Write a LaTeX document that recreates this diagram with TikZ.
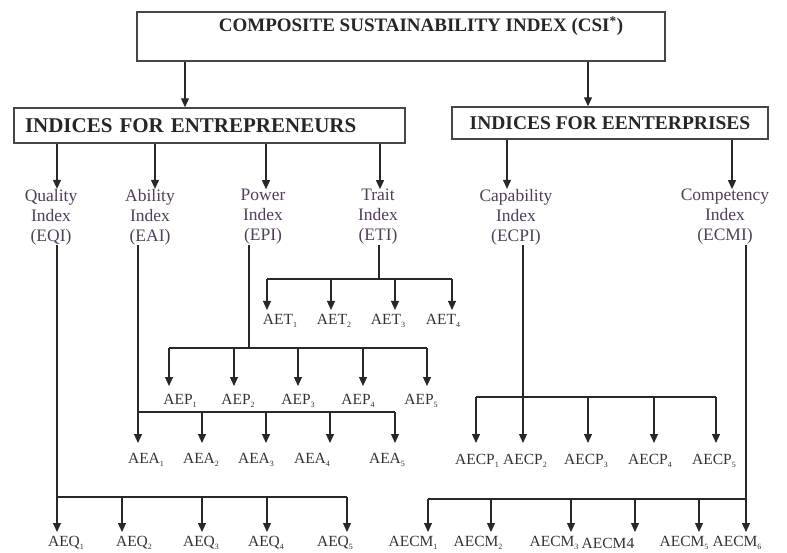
\documentclass[tikz,border=0pt]{standalone}
\usepackage{fontspec}
\setmainfont{Liberation Serif}
\usetikzlibrary{arrows.meta}
\definecolor{lnc}{RGB}{40,40,40}
\definecolor{boxc}{RGB}{70,70,70}
\definecolor{idx}{RGB}{80,62,90}
\definecolor{leaf}{RGB}{50,50,50}
\newcommand{\lowsub}[1]{\raisebox{-0.4ex}{\fontsize{8}{8}\selectfont #1}}
\begin{document}
\begin{tikzpicture}[x=1pt,y=-1pt,
  arr/.style={draw=lnc, line width=1.1pt, -{Triangle[length=9pt,width=8pt]}},
  lnk/.style={draw=lnc, line width=1.1pt},
  box/.style={draw=boxc, line width=1.4pt, inner sep=0pt},
  idxlab/.style={text=idx, font=\fontsize{17.5}{20}\selectfont, align=center, inner sep=0pt},
  leaflab/.style={text=leaf, font=\fontsize{15.5}{18}\selectfont, inner sep=0pt},
  ]
\useasboundingbox (0,0) rectangle (787,553);

% top box
\node[box, minimum width=528pt, minimum height=49pt] (csi) at (401,36.5) {};
\node[font=\bfseries\fontsize{19}{22}\selectfont, inner sep=0pt, text=black!85] (csit) at (421,26) {COMPOSITE SUSTAINABILITY INDEX (CSI\textsuperscript{*})};

% second level boxes
\node[box, minimum width=391pt, minimum height=35pt, text width=369pt, align=left, inner xsep=11pt,
      font=\bfseries\fontsize{21}{24}\selectfont, text=black!85] (ent) at (209.5,125.5) {INDICES FOR ENTREPRENEURS};
\node[box, minimum width=316pt, minimum height=32pt,
      font=\bfseries\fontsize{19.5}{22}\selectfont, text=black!85] (enp) at (610,123) {INDICES FOR EENTERPRISES};

\draw[arr] (csi.south -| 185,0) -- (ent.north -| 185,0);
\draw[arr] (csi.south -| 588,0) -- (enp.north -| 588,0);

% index labels
\node[idxlab] (eqi) at (51,217) {Quality\\Index\\(EQI)};
\node[idxlab] (eai) at (150,217) {Ability\\Index\\(EAI)};
\node[idxlab] (epi) at (263,217) {Power\\Index\\(EPI)};
\node[idxlab] (eti) at (378,217) {Trait\\Index\\(ETI)};
\node[idxlab] (ecpi) at (516,217) {Capability\\Index\\(ECPI)};
\node[idxlab] (ecmi) at (725,217) {Competency\\Index\\(ECMI)};

\draw[arr] (ent.south -| 57,0) -- (eqi.north -| 57,0);
\draw[arr] (ent.south -| 155,0) -- (eai.north -| 155,0);
\draw[arr] (ent.south -| 266,0) -- (epi.north -| 266,0);
\draw[arr] (ent.south -| 380,0) -- (eti.north -| 380,0);
\draw[arr] (enp.south -| 507,0) -- (ecpi.north -| 507,0);
\draw[arr] (enp.south -| 732,0) -- (ecmi.north -| 732,0);

% ---- Trait tree
\coordinate (etib) at (379,279);
\foreach \i/\ax/\lx in {1/267/280, 2/331/334, 3/395/388, 4/452/443} {
  \node[leaflab] (aet\i) at (\lx,321) {AET\lowsub{\i}};
  \coordinate (aett\i) at (\ax,310);
}
\draw[lnk] (eti.south -| etib) -- (etib);
\draw[lnk] (aett1 |- etib) -- (aett4 |- etib);
\foreach \i in {1,...,4} \draw[arr] (aett\i |- etib) -- (aett\i);

% ---- Power tree
\coordinate (epib) at (249,348);
\foreach \i/\ax/\lx in {1/169/180, 2/234/238, 3/298/298, 4/363/358, 5/427/421} {
  \node[leaflab] (aep\i) at (\lx,401) {AEP\lowsub{\i}};
  \coordinate (aept\i) at (\ax,386);
}
\draw[lnk] (epi.south -| epib) -- (epib);
\draw[lnk] (aept1 |- epib) -- (aept5 |- epib);
\foreach \i in {1,...,5} \draw[arr] (aept\i |- epib) -- (aept\i);

% ---- Ability tree
\coordinate (eaib) at (138,412);
\foreach \i/\ax/\lx in {1/138/146, 2/202/201, 3/266/256, 4/330/312, 5/395/387} {
  \node[leaflab] (aea\i) at (\lx,460) {AEA\lowsub{\i}};
  \coordinate (aeat\i) at (\ax,443);
}
\draw[lnk] (eai.south -| eaib) -- (eaib);
\draw[lnk] (aeat1 |- eaib) -- (aeat5 |- eaib);
\foreach \i in {1,...,5} \draw[arr] (aeat\i |- eaib) -- (aeat\i);

% ---- Quality tree
\coordinate (eqib) at (57,497);
\foreach \i/\ax/\lx in {1/57/66, 2/122/134, 3/202/201, 4/267/266, 5/347/335} {
  \node[leaflab] (aeq\i) at (\lx,543) {AEQ\lowsub{\i}};
  \coordinate (aeqt\i) at (\ax,532);
}
\draw[lnk] (eqi.south -| eqib) -- (eqib);
\draw[lnk] (aeqt1 |- eqib) -- (aeqt5 |- eqib);
\foreach \i in {1,...,5} \draw[arr] (aeqt\i |- eqib) -- (aeqt\i);

% ---- Capability tree
\coordinate (ecpib) at (523,397);
\foreach \i/\ax/\lx in {1/476/477, 2/523/525, 3/588/586, 4/654/650, 5/716/714} {
  \node[leaflab] (aecp\i) at (\lx,461) {AECP\lowsub{\i}};
  \coordinate (aecpt\i) at (\ax,443);
}
\draw[lnk] (ecpi.south -| ecpib) -- (ecpib);
\draw[lnk] (aecpt1 |- ecpib) -- (aecpt5 |- ecpib);
\foreach \i in {1,...,5} \draw[arr] (aecpt\i |- ecpib) -- (aecpt\i);

% ---- Competency tree
\coordinate (ecmib) at (746,499);
\node[leaflab] (aecm1) at (413,543) {AECM\lowsub{1}};
\node[leaflab] (aecm2) at (478,543) {AECM\lowsub{2}};
\node[leaflab] (aecm3) at (554,543) {AECM\lowsub{3}};
\node[leaflab] (aecm4) at (608,543) {AECM4};
\node[leaflab] (aecm5) at (684,543) {AECM\lowsub{5}};
\node[leaflab] (aecm6) at (737,543) {AECM\lowsub{6}};
\foreach \i/\ax in {1/428, 2/491, 3/571, 4/635, 5/699, 6/746} {
  \coordinate (aecmt\i) at (\ax,532);
}
\draw[lnk] (ecmi.south -| ecmib) -- (ecmib);
\draw[lnk] (aecmt1 |- ecmib) -- (aecmt6 |- ecmib);
\foreach \i in {1,...,6} \draw[arr] (aecmt\i |- ecmib) -- (aecmt\i);
\end{tikzpicture}
\end{document}
